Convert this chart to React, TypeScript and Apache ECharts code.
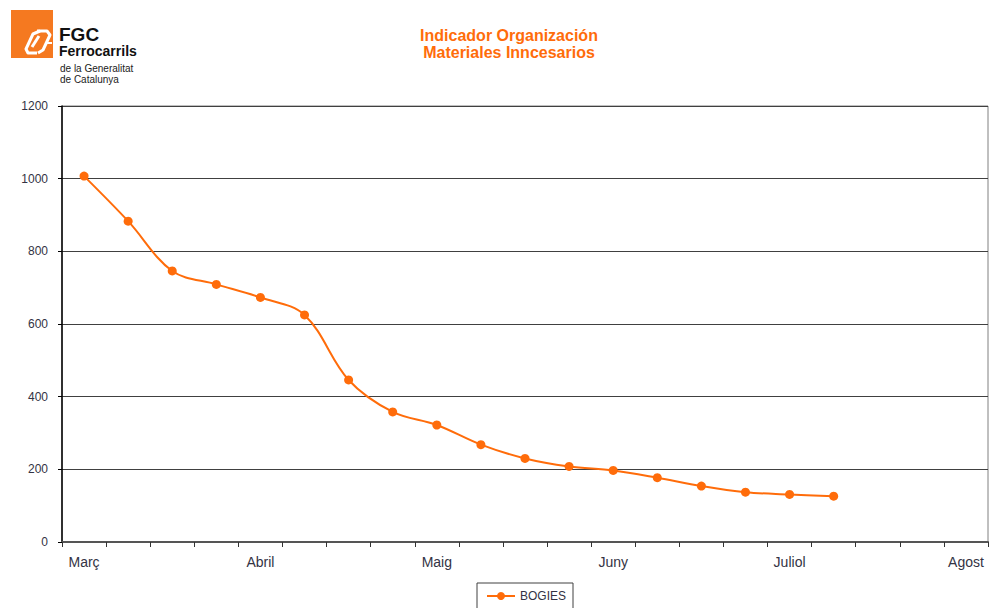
import React, { useEffect, useRef } from "react";
import * as echarts from "echarts";

const categories: string[] = [
  "Març", "", "", "", "Abril", "", "", "", "Maig", "", "", "",
  "Juny", "", "", "", "Juliol", "", "", "", "Agost",
];
const bogies: number[] = [1007, 883, 746, 709, 673, 625, 446, 358, 322, 268, 230, 208, 197, 177, 154, 137, 131, 126];
const yTicks = { min: 0, max: 1200, interval: 200 };
const titleLines = ["Indicador Organización", "Materiales Inncesarios"];
const seriesName = "BOGIES";

const ORANGE = "#ff6c0a";
const FONT = "Arial, 'Liberation Sans', sans-serif";
const WHITE_LINE = { stroke: "#ffffff", lineWidth: 3, fill: "none", lineJoin: "round" };

export default function App() {
  const ref = useRef<HTMLDivElement>(null);
  useEffect(() => {
    if (!ref.current) return;
    const chart = echarts.init(ref.current, null, { renderer: "svg" });
    chart.setOption({
      animation: false,
      backgroundColor: "#ffffff",
      textStyle: { fontFamily: FONT },
      title: {
        text: titleLines.join("\n"),
        left: 504,
        textAlign: "center",
        top: 22,
        textStyle: { color: ORANGE, fontSize: 16, fontWeight: "bold", lineHeight: 17, fontFamily: FONT },
      },
      grid: {
        left: 62, right: 4, top: 106, bottom: 66,
        show: true, borderColor: "#808080", borderWidth: 1,
      },
      legend: {
        data: [seriesName],
        left: 477,
        top: 583,
        padding: [7, 7, 12, 9],
        borderColor: "#404040",
        borderWidth: 1,
        itemWidth: 28,
        itemHeight: 10,
        itemGap: 2,
        textStyle: { color: "#333344", fontSize: 12, fontFamily: FONT },
      },
      xAxis: {
        type: "category",
        data: categories,
        boundaryGap: true,
        axisLine: { lineStyle: { color: "#555555", width: 2 } },
        axisTick: { show: true, length: 5, alignWithLabel: false, interval: 0, lineStyle: { color: "#333333", width: 1 } },
        axisLabel: { interval: 3, color: "#333344", fontSize: 14, margin: 13, fontFamily: FONT },
        splitLine: { show: false },
      },
      yAxis: {
        type: "value",
        min: yTicks.min,
        max: yTicks.max,
        interval: yTicks.interval,
        axisLine: { show: true, lineStyle: { color: "#000000", width: 1.5 } },
        axisTick: { show: true, length: 4, lineStyle: { color: "#000000" } },
        axisLabel: { color: "#333344", fontSize: 12, margin: 14, fontFamily: FONT, formatter: (v: number) => String(v) },
        splitLine: { show: true, lineStyle: { color: "#404040", width: 1 } },
      },
      series: [
        {
          name: seriesName,
          type: "line",
          data: bogies,
          smooth: 0.35,
          symbol: "circle",
          symbolSize: 9,
          itemStyle: { color: ORANGE },
          lineStyle: { color: ORANGE, width: 2 },
        },
      ],
      graphic: [
        { type: "rect", shape: { x: 11, y: 10, width: 42, height: 48 }, style: { fill: "#f57920" } },
        { type: "polyline", shape: { points: [[37, 53], [28, 53], [26, 49], [33, 34], [40, 31]] }, style: WHITE_LINE },
        { type: "polyline", shape: { points: [[32, 47], [39, 36]] }, style: WHITE_LINE },
        { type: "polyline", shape: { points: [[37, 31], [47, 31], [50, 35], [43, 50], [38, 53]] }, style: WHITE_LINE },
        { type: "polyline", shape: { points: [[45, 43], [52, 43]] }, style: { stroke: "#ffffff", lineWidth: 2, fill: "none" } },
        { type: "text", left: 59, top: 25, style: { text: "FGC", fill: "#111111", fontSize: 19, fontWeight: "bold", fontFamily: FONT } },
        { type: "text", left: 59, top: 44, style: { text: "Ferrocarrils", fill: "#111111", fontSize: 14, fontWeight: "bold", fontFamily: FONT } },
        { type: "text", left: 60, top: 63, style: { text: "de la Generalitat", fill: "#222222", fontSize: 10, fontFamily: FONT } },
        { type: "text", left: 60, top: 74, style: { text: "de Catalunya", fill: "#222222", fontSize: 10, fontFamily: FONT } },
      ],
    });
    return () => chart.dispose();
  }, []);
  return (
    <div
      ref={ref}
      style={{ position: "fixed", left: 0, top: 0, width: 992, height: 608 }}
    />
  );
}
